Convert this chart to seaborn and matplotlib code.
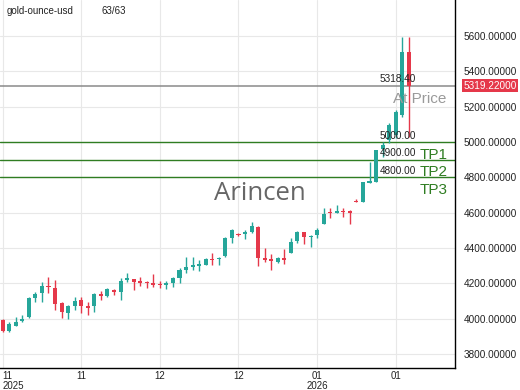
import numpy as np
import pandas as pd
import seaborn as sns
import matplotlib
matplotlib.use("Agg")
import matplotlib.pyplot as plt
import matplotlib.transforms as mtransforms

# daily OHLC (63 candles)
opens = [3992, 3930, 3962, 3987, 4009, 4117, 4145, 4185, 4173, 4088,
         4032, 4072, 4105, 4072, 4072, 4140, 4128, 4162, 4151, 4219,
         4224, 4213, 4207, 4202, 4196, 4190, 4202, 4230, 4275, 4292,
         4298, 4304, 4337, 4337, 4355, 4456, 4481, 4479, 4490, 4519,
         4343, 4337, 4320, 4343, 4372, 4439, 4490, 4462, 4473, 4536,
         4604, 4598, 4609, 4609, 4666, 4660, 4768, 4773, 4960, 5011,
         5039, 5152, 5509]
highs = [3998, 3981, 4009, 4020, 4122, 4151, 4207, 4236, 4219, 4094,
         4077, 4122, 4122, 4094, 4145, 4156, 4173, 4168, 4230, 4258,
         4226, 4236, 4213, 4253, 4213, 4213, 4236, 4287, 4349, 4349,
         4332, 4343, 4372, 4349, 4462, 4507, 4487, 4502, 4547, 4524,
         4400, 4366, 4349, 4394, 4456, 4496, 4490, 4473, 4513, 4626,
         4626, 4643, 4626, 4615, 4677, 4773, 4886, 4955, 5000, 5107,
         5181, 5594, 5594]
lows = [3925, 3925, 3958, 3981, 4004, 4094, 4094, 4145, 4049, 4004,
        3998, 4049, 4032, 4021, 4038, 4105, 4122, 4134, 4105, 4207,
        4162, 4185, 4173, 4179, 4173, 4168, 4179, 4202, 4258, 4275,
        4270, 4304, 4304, 4304, 4349, 4428, 4470, 4451, 4485, 4298,
        4320, 4275, 4315, 4309, 4372, 4428, 4422, 4405, 4456, 4536,
        4570, 4598, 4575, 4536, 4660, 4660, 4768, 4773, 4915, 4994,
        5022, 5141, 5028]
closes = [3930, 3970, 3981, 3998, 4117, 4140, 4185, 4179, 4083, 4038,
          4072, 4100, 4072, 4060, 4140, 4128, 4168, 4151, 4213, 4230,
          4207, 4202, 4202, 4190, 4190, 4202, 4230, 4275, 4292, 4304,
          4309, 4337, 4332, 4343, 4456, 4502, 4476, 4490, 4524, 4343,
          4332, 4326, 4343, 4332, 4434, 4490, 4462, 4468, 4502, 4592,
          4598, 4609, 4604, 4598, 4660, 4773, 4779, 4955, 4983, 5096,
          5169, 5509, 5319.22]

tick_idx = [0, 12, 24, 36, 48, 60]
tick_labels = ["11\n2025", "11", "12", "12", "01\n2026", "01"]
y_ticks = [3800, 4000, 4200, 4400, 4600, 4800, 5000, 5200, 5400, 5600]

entry_price = 5318.40
last_price = closes[-1]
tp_levels = [5000.00, 4900.00, 4800.00]
tp_names = ["TP1", "TP2", "TP3"]
tp_label_y = [4926, 4830, 4728]

UP = "#26a69a"
DOWN = "#e5384a"
TP_GREEN = "#2f7d22"

df = pd.DataFrame({"open": opens, "high": highs, "low": lows, "close": closes})
df["idx"] = np.arange(len(df))
df["up"] = df["close"] >= df["open"]
df["color"] = np.where(df["up"], UP, DOWN)
df["body_lo"] = df[["open", "close"]].min(axis=1)
df["body_h"] = (df["close"] - df["open"]).abs().clip(lower=6)

sns.set_style("whitegrid", {"grid.color": "#e8e8e8"})
plt.rcParams["font.family"] = ["Liberation Sans", "DejaVu Sans"]

fig = plt.figure(figsize=(5.2, 3.9), dpi=100)
ax = fig.add_axes([0.0, 0.056, 0.875, 0.944])

ax.vlines(df["idx"], df["low"], df["high"], colors=df["color"], lw=1, zorder=3)
ax.bar(df["idx"], df["body_h"], bottom=df["body_lo"], width=0.62,
       color=df["color"], linewidth=0, zorder=4)

# entry / target lines
ax.axhline(entry_price, color="#8a8a8a", lw=1.1, zorder=2)
ax.text(57.6, entry_price + 8, f"{entry_price:.2f}", fontsize=7.2,
        color="#222222", va="bottom", ha="left", zorder=6)
ax.text(59.6, entry_price - 35, "At Price", fontsize=11, color="#9a9a9a",
        va="top", ha="left", zorder=6)
for lvl in tp_levels:
    ax.axhline(lvl, color=TP_GREEN, lw=1.0, zorder=2)
    ax.text(57.6, lvl + 8, f"{lvl:.2f}", fontsize=7.2, color="#222222",
            va="bottom", ha="left", zorder=6)
for name, ly in zip(tp_names, tp_label_y):
    ax.text(63.7, ly, name, fontsize=11, color=TP_GREEN, va="center", ha="left")

ax.text(39.3, 4711, "Arincen", fontsize=18.5, color="#666666",
        ha="center", va="center", family=["Open Sans", "DejaVu Sans"])
ax.text(0.015, 0.985, "gold-ounce-usd", transform=ax.transAxes, fontsize=7,
        color="#222222", va="top", ha="left")
ax.text(0.222, 0.985, "63/63", transform=ax.transAxes, fontsize=7,
        color="#222222", va="top", ha="left")

ax.set_xlim(-0.4, 69.05)
ax.set_ylim(3721, 5803)
ax.set_xticks(tick_idx)
ax.set_xticklabels(tick_labels, fontsize=7, color="#222222", linespacing=0.95)
first = ax.get_xticklabels()[0]
first.set_ha("left")
first.set_transform(first.get_transform() +
                    mtransforms.ScaledTranslation(2 / 100, 0, fig.dpi_scale_trans))
ax.set_yticks(y_ticks)
ax.set_yticklabels([f"{v:.5f}" for v in y_ticks], fontsize=7.2, color="#222222")
ax.yaxis.tick_right()
ax.tick_params(axis="both", length=0, pad=2)
ax.tick_params(axis="y", pad=6)

for side in ["left", "top"]:
    ax.spines[side].set_visible(False)
for side in ["right", "bottom"]:
    ax.spines[side].set_visible(True)
    ax.spines[side].set_color("black")
    ax.spines[side].set_linewidth(1)

ax.annotate(f"{last_price:.5f}", xy=(1.0, last_price),
            xycoords=("axes fraction", "data"), xytext=(6, 0),
            textcoords="offset points", fontsize=7.2, color="white",
            va="center", ha="left",
            bbox=dict(boxstyle="square,pad=0.15", fc=DOWN, ec="none"))

fig.savefig("out.png", dpi=100)
